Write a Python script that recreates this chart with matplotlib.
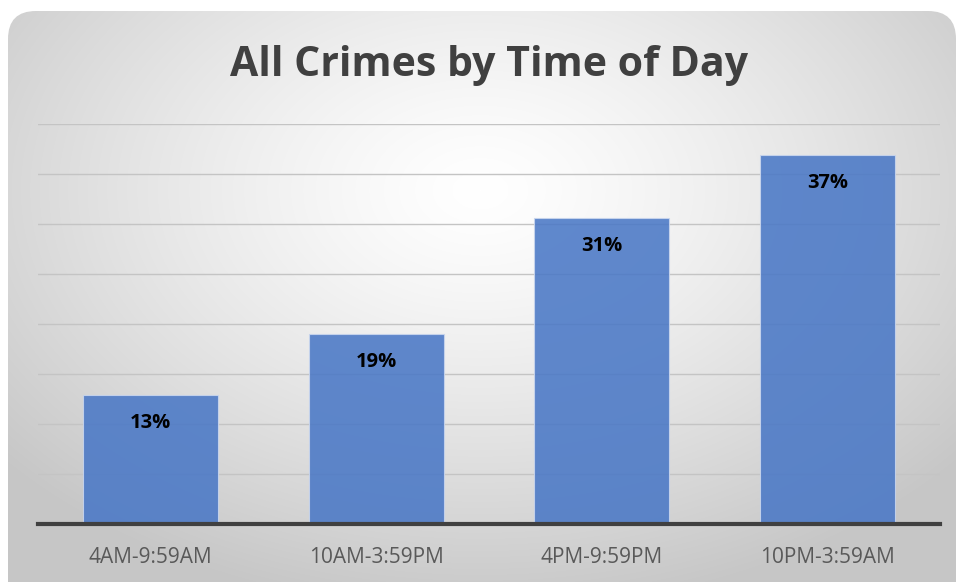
import numpy as np
import matplotlib
matplotlib.use("Agg")
import matplotlib.pyplot as plt
from matplotlib.patches import FancyBboxPatch

categories = ["4AM-9:59AM", "10AM-3:59PM", "4PM-9:59PM", "10PM-3:59AM"]
values = [12.9, 19.0, 30.6, 36.9]
labels = ["13%", "19%", "31%", "37%"]
title = "All Crimes by Time of Day"

W, H = 959, 582
fig = plt.figure(figsize=(W / 100, H / 100), dpi=100)
fig.patch.set_facecolor("white")

# background card with radial gradient
bg = fig.add_axes([0, 0, 1, 1])
bg.set_xlim(0, W)
bg.set_ylim(H, 0)
bg.axis("off")
yy, xx = np.mgrid[0:H, 0:W]
r = np.sqrt(((xx - 480) / 620.0) ** 2 + ((yy - 190) / 420.0) ** 2)
r = np.clip(r, 0, 1)
val = 1.0 - 0.22 * r ** 1.3
img = np.dstack([val, val, val])
im = bg.imshow(img, extent=[0, W, H, 0], interpolation="bilinear", zorder=0)
card = FancyBboxPatch((8, 11), 948, 620, boxstyle="round,pad=0,rounding_size=28",
                      facecolor="none", edgecolor="none", transform=bg.transData)
bg.add_patch(card)
im.set_clip_path(card)

ax = fig.add_axes([38 / W, (H - 524) / H, (940 - 38) / W, (524 - 124) / H])
ax.patch.set_alpha(0)
x = np.arange(len(categories))
bars = ax.bar(x, values, width=0.6, color="#4a78c6", alpha=0.88,
              edgecolor="#c9d6ee", linewidth=0.8, zorder=3)
ax.set_xlim(-0.5, len(categories) - 0.5)
ax.set_ylim(0, 40)
ax.set_yticks(np.arange(5, 41, 5))
ax.yaxis.grid(True, color="#c4c4c4", linewidth=1.0, zorder=1)
ax.set_axisbelow(True)
ax.tick_params(axis="y", left=False, labelleft=False)
ax.tick_params(axis="x", bottom=False, pad=13)
ax.set_xticks(x)
ax.set_xticklabels(categories, fontsize=15, color="#595959", family=["Open Sans", "DejaVu Sans"])
for s in ["top", "right", "left"]:
    ax.spines[s].set_visible(False)
ax.spines["bottom"].set_color("#404040")
ax.spines["bottom"].set_linewidth(3)
ax.spines["bottom"].set_zorder(5)

for xi, v, lab in zip(x, values, labels):
    ax.annotate(lab, (xi, v), xytext=(0, -28), textcoords="offset pixels",
                ha="center", va="center", fontsize=14.5, fontweight="bold", color="black",
                family=["Open Sans", "DejaVu Sans"], zorder=6)

fig.text(489 / W, 1 - 66 / H, title, ha="center", va="center", fontsize=29.5,
         fontweight="bold", color="#404040", family=["Open Sans", "DejaVu Sans"])

fig.savefig("out.png", dpi=100)
